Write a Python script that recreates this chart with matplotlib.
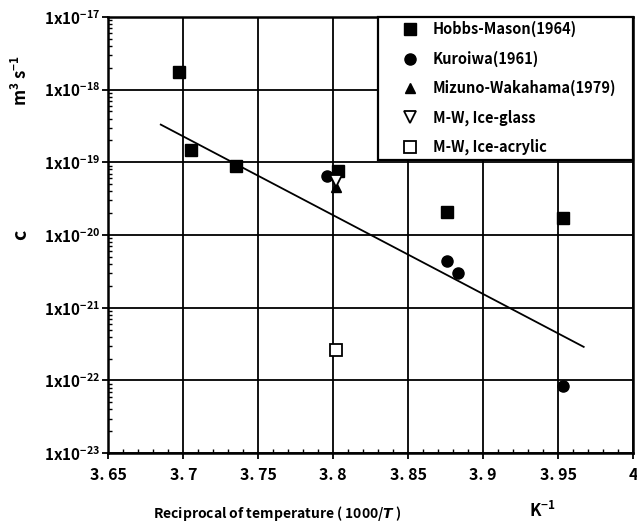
import numpy as np
import matplotlib.pyplot as plt
from matplotlib.patches import Rectangle
from matplotlib.ticker import FixedLocator, FixedFormatter, LogLocator, NullFormatter

plt.rcParams['font.family'] = ['Noto Sans CJK JP', 'DejaVu Sans']
plt.rcParams['font.weight'] = 'bold'
plt.rcParams['mathtext.default'] = 'regular'

# data
hm_x = [3.697, 3.705, 3.735, 3.803, 3.876, 3.953]
hm_c = [1.74e-18, 1.47e-19, 8.8e-20, 7.5e-20, 2.1e-20, 1.7e-20]

ku_x = [3.796, 3.876, 3.883, 3.953]
ku_c = [6.4e-20, 4.45e-21, 3.0e-21, 8.4e-23]

mw_x = [3.802]
mw_c = [4.6e-20]

mw_glass_x = [3.802]
mw_glass_c = [5.6e-20]

mw_acryl_x = [3.802]
mw_acryl_c = [2.6e-22]

fit_x = [3.685, 3.967]
fit_c = [3.3e-19, 2.9e-22]

xticks = [3.65, 3.7, 3.75, 3.8, 3.85, 3.9, 3.95, 4.0]
xticklabels = ['3. 65', '3. 7', '3. 75', '3. 8', '3. 85', '3. 9', '3. 95', '4']
yticks = [1e-23, 1e-22, 1e-21, 1e-20, 1e-19, 1e-18, 1e-17]
yticklabels = [r'1x10$^{-23}$', r'1x10$^{-22}$', r'1x10$^{-21}$', r'1x10$^{-20}$',
               r'1x10$^{-19}$', r'1x10$^{-18}$', r'1x10$^{-17}$']

fig = plt.figure(figsize=(6.37, 5.27), dpi=100)
ax = fig.add_axes([0.170, 0.140, 0.824, 0.828])
ax.set_yscale('log')
ax.set_xlim(3.65, 4.0)
ax.set_ylim(1e-23, 1e-17)

ax.grid(True, which='major', color='black', linewidth=1.3)
ax.set_axisbelow(True)

ax.plot(fit_x, fit_c, color='black', linewidth=1.3, zorder=3)

ax.plot(hm_x, hm_c, 's', color='black', markersize=8.5, label='Hobbs-Mason(1964)', zorder=4)
ax.plot(ku_x, ku_c, 'o', color='black', markersize=8, label='Kuroiwa(1961)', zorder=4)
ax.plot(mw_x, mw_c, '^', color='black', markersize=7.5, label='Mizuno-Wakahama(1979)', zorder=4)
ax.plot(mw_glass_x, mw_glass_c, 'v', color='black', markerfacecolor='white', markersize=8,
        markeredgewidth=1.3, label='M-W, Ice-glass', zorder=4)
ax.plot(mw_acryl_x, mw_acryl_c, 's', color='black', markerfacecolor='white', markersize=8.5,
        markeredgewidth=1.3, label='M-W, Ice-acrylic', zorder=4)

ax.xaxis.set_major_locator(FixedLocator(xticks))
ax.xaxis.set_major_formatter(FixedFormatter(xticklabels))
ax.xaxis.set_minor_locator(FixedLocator(np.arange(3.65, 4.001, 0.01)))
ax.yaxis.set_major_locator(FixedLocator(yticks))
ax.yaxis.set_major_formatter(FixedFormatter(yticklabels))
ax.yaxis.set_minor_locator(LogLocator(base=10, subs=np.arange(2, 10), numticks=20))
ax.yaxis.set_minor_formatter(NullFormatter())

ax.tick_params(which='major', direction='out', length=4, width=1.3, pad=2)
ax.tick_params(axis='x', which='major', pad=6, labelsize=11.5)
ax.tick_params(axis='y', which='major', labelsize=11)
ax.tick_params(which='minor', direction='in', length=3, width=1)
for lab in ax.get_xticklabels() + ax.get_yticklabels():
    lab.set_fontweight('bold')
for sp in ax.spines.values():
    sp.set_linewidth(1.8)

# legend box drawn by hand so the padding matches
box = Rectangle((0.514, 0.672), 0.486, 0.328, transform=ax.transAxes,
                facecolor='white', edgecolor='black', linewidth=1.6,
                clip_on=False, zorder=5)
ax.add_patch(box)
leg = ax.legend(loc='upper left', bbox_to_anchor=(0.554, 0.99), frameon=False,
                fontsize=10.5, borderaxespad=0, handletextpad=0.8,
                labelspacing=0.9, borderpad=0, handlelength=1.5)
leg.set_zorder(6)

fig.text(0.033, 0.555, 'c', rotation=90, fontsize=14, style='italic',
         ha='center', va='center')
fig.text(0.033, 0.848, r'm$^3$ s$^{-1}$', rotation=90, fontsize=12,
         ha='center', va='center')
fig.text(0.240, 0.026, r'Reciprocal of temperature ( 1000/$\it{T}$ )', fontsize=10,
         ha='left', va='center')
fig.text(0.852, 0.030, r'K$^{-1}$', fontsize=12, ha='center', va='center')

fig.savefig('out.png', dpi=100)
